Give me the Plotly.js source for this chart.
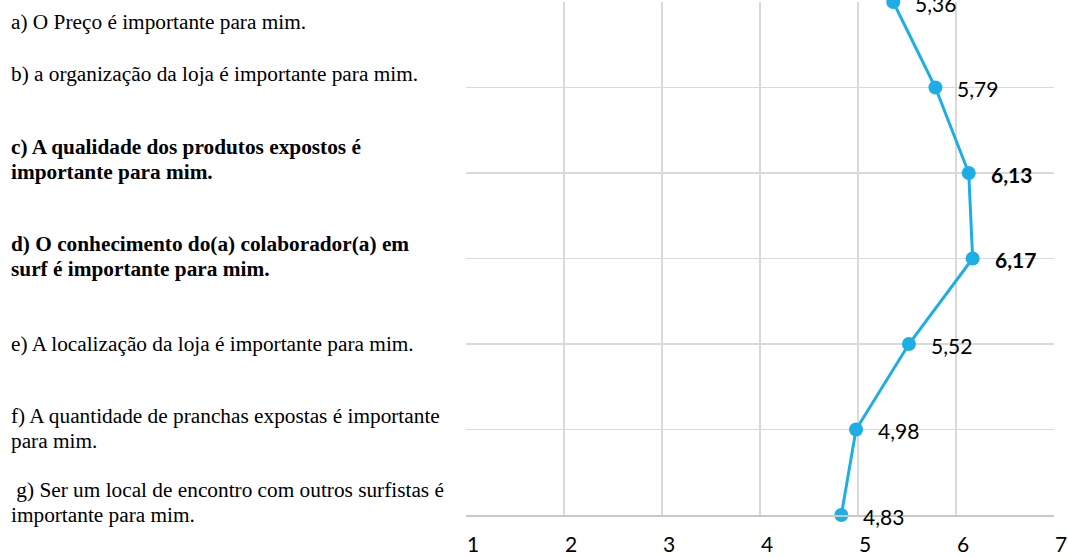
<!DOCTYPE html>
<html>
<head>
<meta charset="utf-8">
<script src="https://cdn.plot.ly/plotly-3.0.1.min.js"></script>
<style>
  html, body { margin: 0; padding: 0; background: #fff; }
  #chart { width: 1068px; height: 557px; }
</style>
</head>
<body>
<div id="chart"></div>
<script>
// Survey statements (left text column), top to bottom; "|" marks a line break
const statements = [
  "a) O Preço é importante para mim.",
  "b) a organização da loja é importante para mim.",
  "c) A qualidade dos produtos expostos é|importante para mim.",
  "d) O conhecimento do(a) colaborador(a) em|surf é importante para mim.",
  "e) A localização da loja é importante para mim.",
  "f) A quantidade de pranchas expostas é importante|para mim.",
  " g) Ser um local de encontro com outros surfistas é|importante para mim."
];
// Which statements are set in bold
const boldItems = [false, false, true, true, false, false, false];
// Category keys for the vertical axis
const itemKeys = ["a", "b", "c", "d", "e", "f", "g"];
// Mean scores (scale 1–7)
const meanScores = [5.36, 5.79, 6.13, 6.17, 5.52, 4.98, 4.83];
// Horizontal axis ticks
const scaleTicks = [1, 2, 3, 4, 5, 6, 7];

const fmt = v => v.toFixed(2).replace(".", ",");
const blue = "#1eaee6";
const gridColor = "#d9d9d9";

// Plot area geometry (px)
const plotTop = 2, plotBottom = 515;
const toPaperY = px => (plotBottom - px) / (plotBottom - plotTop);

// Baseline-centre (px) of the first line of each statement, and line pitch
const textFirstLine = [22, 74, 147, 244, 344, 416, 490];
const linePitch = 25;

const serif = { family: "Liberation Serif, Times New Roman, serif", size: 21.3, color: "#000" };
const sans = { family: "Lato, Carlito, sans-serif", size: 21, color: "#000" };

const annotations = [];
statements.forEach((s, i) => {
  s.split("|").forEach((line, k) => {
    annotations.push({
      xref: "paper", yref: "paper",
      x: -0.777, y: toPaperY(textFirstLine[i] + k * linePitch),
      xanchor: "left", yanchor: "middle", align: "left",
      showarrow: false,
      text: boldItems[i] ? "<b>" + line + "</b>" : line,
      font: serif
    });
  });
});
meanScores.forEach((v, i) => {
  annotations.push({
    xref: "x", yref: "y",
    x: v, y: itemKeys[i],
    xanchor: "left", yanchor: "middle",
    xshift: 20, yshift: -1,
    showarrow: false,
    text: boldItems[i] ? "<b>" + fmt(v) + "</b>" : fmt(v),
    font: sans
  });
});

const trace = {
  type: "scatter",
  mode: "lines+markers",
  x: meanScores,
  y: itemKeys,
  line: { color: blue, width: 3 },
  marker: { color: blue, size: 14 },
  cliponaxis: false,
  hoverinfo: "x"
};

const layout = {
  width: 1068, height: 557,
  margin: { l: 466, r: 14, t: plotTop, b: 557 - plotBottom, pad: 0 },
  paper_bgcolor: "#fff", plot_bgcolor: "#fff",
  showlegend: false,
  xaxis: {
    range: [1, 7],
    tickvals: scaleTicks,
    ticktext: scaleTicks.map(String),
    showgrid: true, gridcolor: gridColor, gridwidth: 1.5,
    zeroline: false,
    showline: true, linecolor: "#c8c8c8", linewidth: 2,
    ticks: "",
    ticklabelshift: 7,
    ticklabelstandoff: 10,
    tickfont: sans
  },
  yaxis: {
    type: "category",
    categoryorder: "array", categoryarray: itemKeys,
    range: [6, 0],
    showgrid: true, gridcolor: gridColor, gridwidth: 1.5,
    zeroline: false, showline: false,
    showticklabels: false, ticks: ""
  },
  annotations: annotations
};

Plotly.newPlot("chart", [trace], layout, { staticPlot: true, displayModeBar: false });
</script>
</body>
</html>
